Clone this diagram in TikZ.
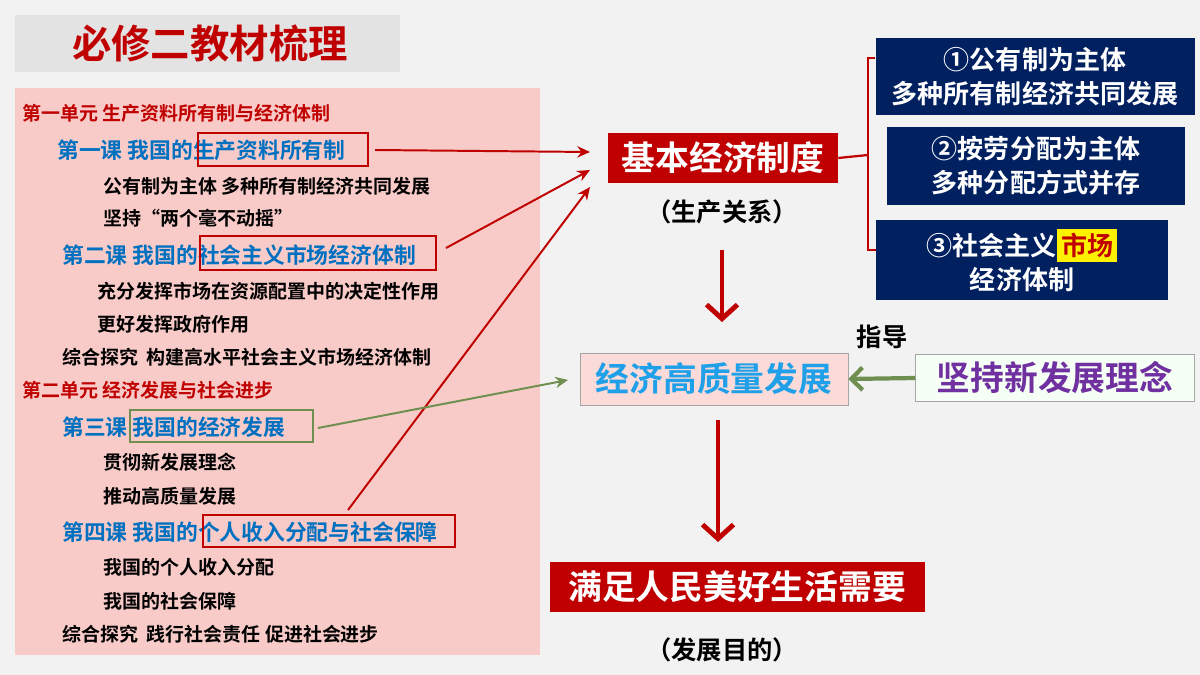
\documentclass[tikz,border=0pt]{standalone}
\usepackage{fontspec}
\setmainfont{Noto Sans CJK SC Bold}
\usetikzlibrary{positioning,arrows.meta}
\definecolor{bgray}{HTML}{F2F2F2}
\definecolor{tgray}{HTML}{E3E3E3}
\definecolor{panel}{HTML}{F8CBC8}
\definecolor{dred}{HTML}{C00000}
\definecolor{lblue}{HTML}{0070C0}
\definecolor{navy}{HTML}{002060}
\definecolor{qblue}{HTML}{1FA0E8}
\definecolor{vio}{HTML}{7030A0}
\definecolor{olive}{HTML}{6F8F50}
\tikzset{
  unit/.style={anchor=west, text=dred, font=\fontsize{13.5}{15}\selectfont, inner sep=0pt},
  lesson/.style={anchor=west, text=lblue, font=\fontsize{15.5}{17}\selectfont, inner sep=0pt},
  item/.style={anchor=west, text=black, font=\fontsize{13.5}{15}\selectfont, inner sep=0pt},
  markbox/.style={draw=#1, line width=1.6pt, inner sep=0pt},
  redbox/.style={fill=dred, text=white, font=\fontsize{24}{28}\selectfont, inner sep=0pt},
  navybox/.style={fill=navy, text=white, font=\fontsize{18.5}{24}\selectfont, align=center, inner sep=0pt},
  note/.style={text=black, font=\fontsize{18}{21}\selectfont},
  link/.style={draw=dred, line width=1.4pt, -{Stealth[length=9pt,width=8pt]}},
  bigdown/.style={draw=dred, line width=3.5pt, -{Straight Barb[length=10pt,width=22pt]}}
}
\begin{document}
\begin{tikzpicture}[x=0.025cm, y=-0.025cm]
  \fill[bgray] (0,0) rectangle (1200,675);
  % title
  \fill[tgray] (15,15) rectangle (400,72);
  \node[text=dred, font=\fontsize{28}{32}\selectfont] (title) at (210,44) {必修二教材梳理};
  % left panel
  \fill[panel] (15,88) rectangle (540,655);
  \node[unit] (u1) at (22,113) {第一单元 生产资料所有制与经济体制};
  \node[lesson] (l1) at (57,150) {第一课 我国的生产资料所有制};
  \node[item] (i1) at (103,186) {公有制为主体 多种所有制经济共同发展};
  \node[item] (i2) at (103,218) {坚持“两个毫不动摇”};
  \node[lesson] (l2) at (62,255) {第二课 我国的社会主义市场经济体制};
  \node[item] (i3) at (97,291) {充分发挥市场在资源配置中的决定性作用};
  \node[item] (i4) at (97,324) {更好发挥政府作用};
  \node[item] (i5) at (62,357) {综合探究\ \ 构建高水平社会主义市场经济体制};
  \node[unit] (u2) at (22,390) {第二单元 经济发展与社会进步};
  \node[lesson] (l3) at (62,427) {第三课 我国的经济发展};
  \node[item] (i6) at (103,462) {贯彻新发展理念};
  \node[item] (i7) at (103,496) {推动高质量发展};
  \node[lesson] (l4) at (62,532) {第四课 我国的个人收入分配与社会保障};
  \node[item] (i8) at (103,567) {我国的个人收入分配};
  \node[item] (i9) at (103,601) {我国的社会保障};
  \node[item] (i10) at (62,634) {综合探究\ \ 践行社会责任 促进社会进步};
  % marks
  \draw[markbox=dred] (198,133) rectangle (368,166);
  \draw[markbox=dred] (200,236) rectangle (436,270);
  \draw[markbox=olive] (130,410) rectangle (313,442);
  \draw[markbox=dred] (203,515) rectangle (455,547);
  \coordinate (m1) at (375,150);
  \coordinate (m2) at (446,248);
  \coordinate (m3) at (348,510);
  \coordinate (m4) at (318,428);
  % right side
  \node[redbox, minimum width=230*0.025cm, minimum height=50*0.025cm] (base) at (723,158) {基本经济制度};
  \node[note] (rel) at (722,212) {（生产关系）};
  \node[draw=gray!70, fill=panel!70, text=qblue, font=\fontsize{24}{28}\selectfont,
        minimum width=268*0.025cm, minimum height=52*0.025cm, inner sep=0pt] (qual) at (714,379) {经济高质量发展};
  \node[draw=gray!70, fill=green!4, text=vio, font=\fontsize{24}{28}\selectfont,
        minimum width=279*0.025cm, minimum height=47*0.025cm, inner sep=0pt] (idea) at (1055,378) {坚持新发展理念};
  \node[note] (guide) at (882,337) {指导};
  \node[redbox, minimum width=375*0.025cm, minimum height=50*0.025cm] (goal) at (737,587) {满足人民美好生活需要};
  \node[note] (aim) at (722,650) {（发展目的）};
  \node[navybox, minimum width=319*0.025cm, minimum height=77*0.025cm] (b1) at (1035,77) {①公有制为主体\\多种所有制经济共同发展};
  \node[navybox, minimum width=298*0.025cm, minimum height=78*0.025cm] (b2) at (1036,166) {②按劳分配为主体\\多种分配方式并存};
  \node[navybox, minimum width=292*0.025cm, minimum height=80*0.025cm] (b3) at (1022,260)
    {③社会主义\colorbox{yellow}{\textcolor{dred}{市场}}\\经济体制};
  % brace
  \draw[dred, line width=1.6pt] (b1.west |- 0,58) -- (868,58) -- (868,250) -- (b3.west |- 0,250);
  \draw[dred, line width=1.6pt] (base.east) -- (868,155);
  % arrows
  \draw[link] (m1) -- (590,152);
  \draw[link] (m2) -- (590,170);
  \draw[link] (m3) -- (590,187);
  \draw[draw=olive, line width=1.4pt, -{Stealth[length=9pt,width=8pt]}] (m4) -- (568,380);
  \draw[bigdown] (722,250) -- (722,322);
  \draw[bigdown] (718,420) -- (718,542);
  \draw[draw=olive, line width=3pt, -{Straight Barb[length=8pt,width=16pt]}] (idea.west) -- (qual.east);
\end{tikzpicture}
\end{document}
